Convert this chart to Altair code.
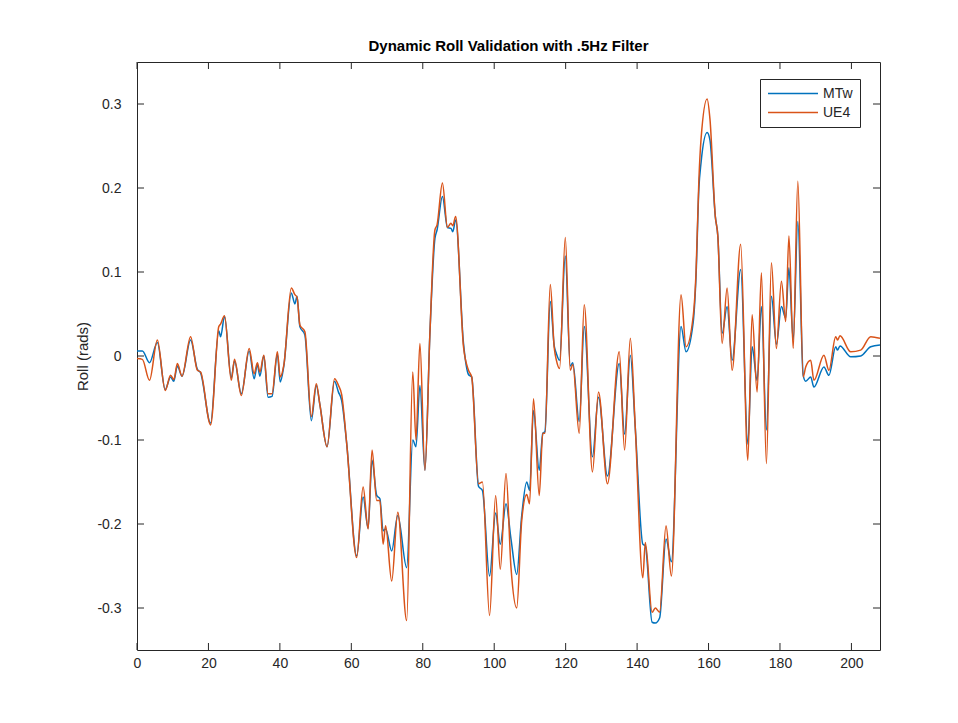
import altair as alt
import pandas as pd

# time (x) positions of key points
time_s = [0, 1.5, 3.5, 5.7, 7.9, 9.4, 10.3, 11.3, 12.6, 15.0, 16.9, 17.8, 20.6, 22.9, 23.4, 24.5,
          26.4, 27.3, 29.2, 31.4, 32.8, 33.7, 34.4, 35.5, 36.7, 37.8, 39.3, 40.1, 41.1, 43.2, 44.2,
          44.8, 45.6, 47.0, 48.8, 50.2, 51.2, 53.2, 55.3, 56.4, 57.3, 58.7, 61.5, 63.3, 64.7, 65.8,
          67.1, 68.0, 68.9, 69.6, 71.3, 73.0, 75.5, 77.2, 78.1, 79.2, 80.6, 82.0, 83.4, 84.0, 85.5,
          86.9, 87.9, 88.4, 89.2, 91.4, 92.8, 93.7, 95.6, 96.7, 98.7, 100.4, 101.7, 103.3, 104.7,
          106.3, 107.7, 109.1, 109.9, 111.0, 112.6, 113.6, 114.2, 115.7, 116.8, 117.4, 118.3, 119.9,
          121.3, 122.0, 123.8, 125.2, 127.5, 129.2, 131.7, 135.0, 136.5, 138.1, 139.5, 141.6, 142.3,
          144.2, 145.1, 146.3, 148.1, 149.6, 152.3, 153.7, 155.7, 156.5, 157.3, 157.9, 159.6, 160.4,
          161.9, 162.6, 163.8, 165.2, 166.6, 169.0, 171.0, 172.2, 173.6, 174.8, 176.2, 177.6, 179.0,
          180.4, 181.6, 182.5, 183.7, 185.0, 186.5, 187.2, 188.6, 189.5, 192.3, 193.7, 195.6, 196.1,
          196.8, 199.8, 202.6, 205.4, 208.0]

ue4 = [-0.003, -0.004, -0.029, 0.019, -0.041, -0.023, -0.028, -0.009, -0.024, 0.023, -0.017, -0.019,
       -0.082, 0.035, 0.038, 0.048, -0.029, -0.004, -0.047, 0.009, -0.021, -0.008, -0.019, 0.001,
       -0.045, -0.045, 0.005, -0.025, -0.011, 0.081, 0.073, 0.070, 0.037, 0.029, -0.072, -0.033,
       -0.058, -0.108, -0.027, -0.035, -0.046, -0.104, -0.240, -0.156, -0.206, -0.112, -0.172,
       -0.172, -0.224, -0.202, -0.268, -0.186, -0.315, -0.019, -0.100, 0.015, -0.136, 0.027, 0.150,
       0.156, 0.206, 0.153, 0.158, 0.155, 0.166, 0.011, -0.017, -0.025, -0.152, -0.150, -0.309,
       -0.166, -0.254, -0.140, -0.252, -0.300, -0.196, -0.165, -0.176, -0.051, -0.166, -0.092,
       -0.092, 0.085, 0.010, -0.005, -0.015, 0.141, -0.017, -0.010, -0.092, 0.061, -0.138, -0.043,
       -0.152, 0.005, -0.112, 0.021, -0.086, -0.264, -0.222, -0.305, -0.300, -0.305, -0.202, -0.262,
       0.073, 0.011, 0.047, 0.100, 0.210, 0.258, 0.306, 0.282, 0.166, 0.143, 0.015, 0.081, -0.017,
       0.133, -0.124, 0.049, -0.043, 0.099, -0.128, 0.111, 0.009, 0.089, 0.041, 0.143, 0.009, 0.208,
       -0.025, -0.013, -0.005, -0.029, 0.001, -0.017, 0.023, 0.019, 0.024, 0.005, 0.007, 0.023, 0.021]

mtw = [0.006, 0.006, -0.008, 0.016, -0.040, -0.025, -0.030, -0.012, -0.024, 0.019, -0.016, -0.020,
       -0.080, 0.030, 0.023, 0.047, -0.026, -0.006, -0.045, 0.006, -0.027, -0.010, -0.024, 0.000,
       -0.049, -0.048, 0.002, -0.031, -0.012, 0.075, 0.062, 0.071, 0.035, 0.025, -0.077, -0.035,
       -0.058, -0.108, -0.030, -0.043, -0.053, -0.104, -0.238, -0.168, -0.205, -0.124, -0.166,
       -0.170, -0.208, -0.206, -0.232, -0.190, -0.252, -0.100, -0.108, -0.035, -0.136, 0.027, 0.140,
       0.150, 0.190, 0.153, 0.152, 0.148, 0.162, 0.015, -0.022, -0.025, -0.155, -0.160, -0.262,
       -0.187, -0.224, -0.176, -0.218, -0.260, -0.190, -0.150, -0.160, -0.065, -0.136, -0.092,
       -0.090, 0.065, 0.012, 0.003, -0.005, 0.119, -0.012, -0.008, -0.078, 0.035, -0.120, -0.049,
       -0.143, -0.009, -0.093, 0.001, -0.086, -0.224, -0.226, -0.317, -0.318, -0.312, -0.218, -0.245,
       0.035, 0.005, 0.040, 0.095, 0.200, 0.230, 0.266, 0.257, 0.166, 0.143, 0.027, 0.059, -0.005,
       0.103, -0.105, 0.011, -0.029, 0.059, -0.088, 0.071, 0.014, 0.059, 0.045, 0.105, 0.019, 0.160,
       -0.023, -0.030, -0.025, -0.037, -0.013, -0.023, 0.011, 0.007, 0.012, -0.001, 0.000, 0.011, 0.013]

series_names = ["MTw", "UE4"]
series_colors = ["#0072BD", "#D95319"]
x_ticks = [0, 20, 40, 60, 80, 100, 120, 140, 160, 180, 200]
y_ticks = [-0.3, -0.2, -0.1, 0.0, 0.1, 0.2, 0.3]

W, H = 743, 588
FONT = "Liberation Sans"
AX = "#262626"

df = pd.DataFrame({"t": time_s, "MTw": mtw, "UE4": ue4}).melt("t", var_name="series", value_name="roll")

xs = alt.Scale(domain=[0, 208], nice=False, zero=False)
ys = alt.Scale(domain=[-0.35, 0.35], nice=False, zero=False)

lines = alt.Chart(df).mark_line(interpolate="monotone", strokeWidth=1.5, clip=True).encode(
    x=alt.X("t:Q", scale=xs,
            axis=alt.Axis(values=x_ticks, ticks=False, domain=False, grid=False, labelFont=FONT,
                          labelFontSize=14, labelColor=AX, labelPadding=6, title=None,
                          labelFlush=False)),
    y=alt.Y("roll:Q", scale=ys,
            axis=alt.Axis(values=y_ticks, ticks=False, domain=False, grid=False, labelFont=FONT,
                          labelFontSize=14, labelColor=AX, labelPadding=16,
                          labelExpr="toString(round(datum.value*10)/10)",
                          title="Roll (rads)", titleFont=FONT, titleFontSize=15,
                          titleFontWeight="normal", titleColor=AX, titlePadding=6)),
    color=alt.Color("series:N", scale=alt.Scale(domain=series_names, range=series_colors),
                    legend=alt.Legend(title=None, orient="none", legendX=623, legendY=17,
                                      fillColor="white", strokeColor=AX, padding=7,
                                      symbolType="stroke", symbolSize=2500, symbolStrokeWidth=1.5,
                                      clipHeight=15, rowPadding=4, labelOffset=4,
                                      labelFont=FONT, labelFontSize=14, labelColor=AX)),
)

xt = pd.DataFrame({"t": x_ticks})
yt = pd.DataFrame({"v": y_ticks})

xt_bottom = alt.Chart(xt).mark_rule(color=AX, strokeWidth=1).encode(
    x=alt.X("t:Q", scale=xs), y=alt.value(H), y2=alt.value(H - 7))
xt_top = alt.Chart(xt).mark_rule(color=AX, strokeWidth=1).encode(
    x=alt.X("t:Q", scale=xs), y=alt.value(0), y2=alt.value(7))
yt_left = alt.Chart(yt).mark_rule(color=AX, strokeWidth=1).encode(
    y=alt.Y("v:Q", scale=ys), x=alt.value(0), x2=alt.value(7))
yt_right = alt.Chart(yt).mark_rule(color=AX, strokeWidth=1).encode(
    y=alt.Y("v:Q", scale=ys), x=alt.value(W), x2=alt.value(W - 7))

chart = alt.layer(lines, xt_bottom, xt_top, yt_left, yt_right).properties(
    width=W, height=H,
    background="white",
    title=alt.Title("Dynamic Roll Validation with .5Hz Filter", font=FONT, fontSize=15,
                    fontWeight="bold", color="black", anchor="middle", offset=8),
    autosize=alt.AutoSizeParams(type="none"),
    padding={"left": 137, "top": 62, "right": 78, "bottom": 73},
).configure_view(stroke=AX, strokeWidth=1)

chart.save("out.html", embed_options={"renderer": "svg", "actions": False})
